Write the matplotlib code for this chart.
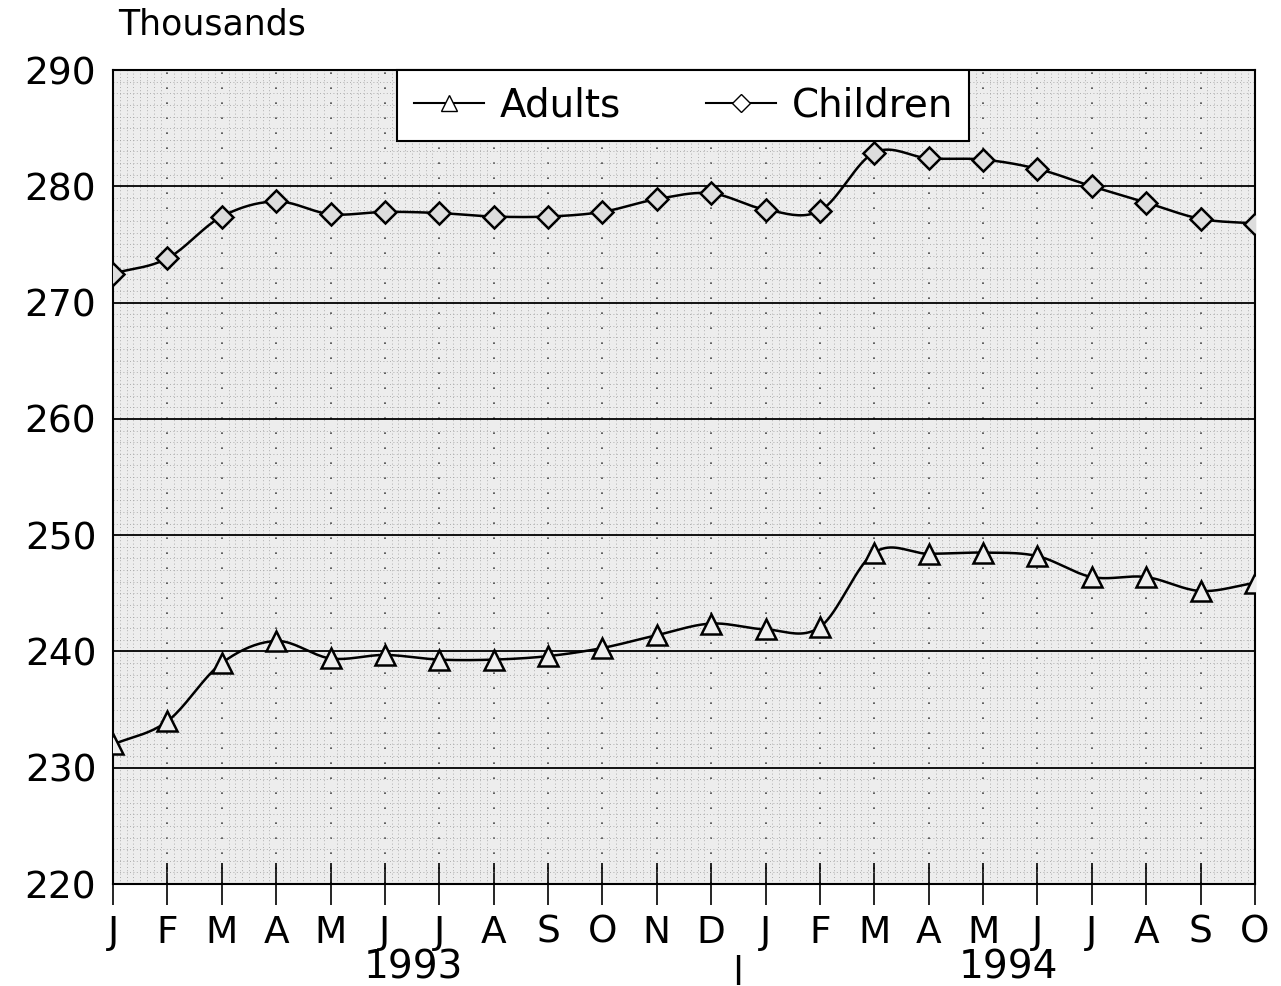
import numpy as np
import matplotlib.pyplot as plt

months = ['J', 'F', 'M', 'A', 'M', 'J', 'J', 'A', 'S', 'O', 'N', 'D',
          'J', 'F', 'M', 'A', 'M', 'J', 'J', 'A', 'S', 'O']
adults = [232.0, 234.0, 239.0, 240.9, 239.4, 239.7, 239.3, 239.3, 239.6, 240.3, 241.4, 242.4,
          241.9, 242.1, 248.5, 248.4, 248.5, 248.2, 246.4, 246.4, 245.2, 245.9]
children = [272.5, 273.8, 277.4, 278.7, 277.6, 277.8, 277.7, 277.4, 277.4, 277.8, 278.9, 279.4,
            278.0, 277.9, 282.9, 282.4, 282.3, 281.5, 280.0, 278.6, 277.2, 276.8]
years = ['1993', '1994']


def smooth(y, n=20):
    # catmull-rom curve through the points, just for drawing the line
    y = np.asarray(y, dtype=float)
    x = np.arange(len(y), dtype=float)
    p = np.concatenate([[2 * y[0] - y[1]], y, [2 * y[-1] - y[-2]]])
    xs, ys = [], []
    t = np.linspace(0, 1, n, endpoint=False)
    for i in range(len(y) - 1):
        p0, p1, p2, p3 = p[i], p[i + 1], p[i + 2], p[i + 3]
        yy = 0.5 * ((2 * p1) + (-p0 + p2) * t + (2 * p0 - 5 * p1 + 4 * p2 - p3) * t**2
                    + (-p0 + 3 * p1 - 3 * p2 + p3) * t**3)
        xs.append(x[i] + t)
        ys.append(yy)
    xs.append([x[-1]])
    ys.append([y[-1]])
    return np.concatenate(xs), np.concatenate(ys)


plt.rcParams['font.family'] = ['DejaVu Sans']
fig = plt.figure(figsize=(12.81, 9.86), dpi=100)
ax = fig.add_axes([0.0882, 0.1034, 0.8915, 0.8256])
ax.set_facecolor('#ededed')

x = np.arange(len(months))
ax.set_xlim(0, len(months) - 1)
ax.set_ylim(220, 290)

# stipple-ish fine grid
ax.set_xticks(np.arange(0, len(months) - 1, 0.125), minor=True)
ax.set_yticks(np.arange(220, 290, 1.0), minor=True)
ax.grid(which='minor', color='#9a9a9a', linestyle=(0, (1, 3)), linewidth=0.6)
ax.grid(which='major', axis='x', color='#444444', linestyle=(0, (1, 8)), linewidth=1.2)
ax.grid(which='major', axis='y', color='black', linestyle='-', linewidth=1.3)

xs, ys = smooth(children)
ax.plot(xs, ys, color='black', lw=1.8, zorder=3)
ax.plot(x, children, ls='none', marker='D', ms=11, mfc='#dddddd', mec='black', mew=1.8, zorder=4)
xs, ys = smooth(adults)
ax.plot(xs, ys, color='black', lw=1.8, zorder=3)
ax.plot(x, adults, ls='none', marker='^', ms=14, mfc='#eeeeee', mec='black', mew=1.8, zorder=4)

# legend proxies
ax.plot([], [], color='black', lw=1.5, marker='^', ms=12, mfc='white', mec='black', label='Adults')
ax.plot([], [], color='black', lw=1.5, marker='D', ms=9, mfc='white', mec='black', label='Children')
leg = ax.legend(loc='upper center', bbox_to_anchor=(0.4995, 1.0), ncol=2, fontsize=28,
                frameon=True, fancybox=False, edgecolor='black', framealpha=1,
                borderpad=0.42, handlelength=1.8, handletextpad=0.4, columnspacing=2.2,
                borderaxespad=0)
leg.get_frame().set_linewidth(1.5)
leg.set_zorder(5)

ax.set_xticks(x)
ax.set_xticklabels(months, fontsize=27)
ax.set_yticks(np.arange(220, 291, 10))
ax.set_yticklabels([str(v) for v in range(220, 291, 10)], fontsize=27)
ax.tick_params(axis='x', which='major', direction='inout', length=30, width=1.2, pad=7)
ax.tick_params(axis='y', which='major', length=0, pad=12)
ax.tick_params(which='minor', length=0)
for s in ax.spines.values():
    s.set_linewidth(1.5)

fig.text(0.092, 0.975, 'Thousands', fontsize=25, ha='left', va='center')
fig.text(0.3225, 0.019, years[0], fontsize=28, ha='center', va='center')
fig.text(0.787, 0.019, years[1], fontsize=28, ha='center', va='center')
fig.text(0.5755, 0.016, '|', fontsize=22, fontweight='bold', ha='center', va='center')

fig.savefig('out.png', dpi=100)
